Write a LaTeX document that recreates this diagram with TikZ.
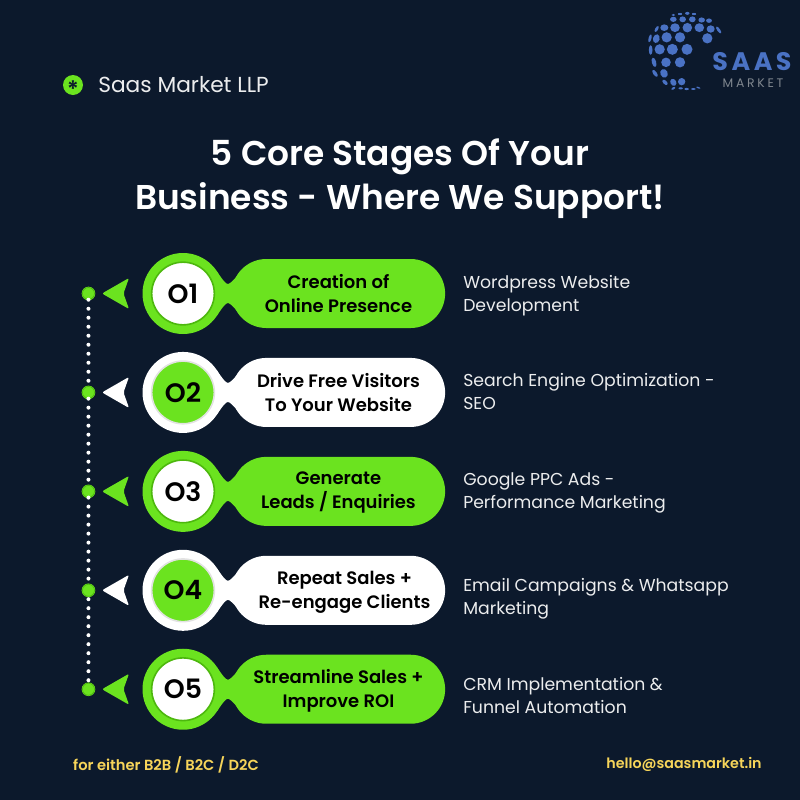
\documentclass[tikz,border=0pt]{standalone}
\usepackage{fontspec}
\setmainfont{Poppins}
\newfontfamily\strongfont{Poppins SemiBold}
\newfontfamily\logofont{Poppins}[LetterSpace=14]
\newfontfamily\subfont{Poppins}[LetterSpace=22]
\usetikzlibrary{positioning,shapes.misc}
\definecolor{navy}{HTML}{0C192C}
\definecolor{lime}{HTML}{6BE31F}
\definecolor{limedark}{HTML}{4DB80E}
\definecolor{paleline}{HTML}{E2E2E2}
\definecolor{sun}{HTML}{F7D55A}
\definecolor{globe}{HTML}{4A72C4}
\definecolor{greytext}{HTML}{7F868E}
\tikzset{
	tipmark/.pic={\path[pic actions,rounded corners=1.5pt] (-81,0) -- (-54,-15.5) -- (-59.5,0) -- (-54,15.5) -- cycle;},
	neck/.pic={\path[pic actions] (34,-22) .. controls (40,-13) and (43,-9.5) .. (45,-9.5) .. controls (47,-9.5) and (51,-14) .. (60,-24) -- (60,24) .. controls (51,14) and (47,9.5) .. (45,9.5) .. controls (43,9.5) and (40,13) .. (34,22) -- cycle;}
}
\begin{document}
\begin{tikzpicture}[x=0.75pt,y=-0.75pt,node distance=74.2pt]
	\tikzstyle{every node}=[inner sep=0pt]
	\tikzstyle{ringnode}=[circle,minimum size=60.75pt]
	\tikzstyle{corenode}=[circle,minimum size=47pt,line width=1.2pt,font=\fontsize{20}{20}\strongfont,text=black]
	\tikzstyle{pillnode}=[rounded rectangle,minimum width=160pt,minimum height=51.75pt]
	\tikzstyle{stagetext}=[align=center,font=\fontsize{13.5}{17.7}\strongfont,text=black]
	\tikzstyle{sidetext}=[align=left,anchor=west,font=\fontsize{12.95}{17.3}\selectfont,text=white!92!navy]
	\tikzstyle{dotnode}=[circle,minimum size=9pt,fill=lime,draw=lime,line width=0.35pt,double=limedark,double distance=0.5pt]
	\tikzstyle{footnote}=[font=\fontsize{11}{11}\strongfont,text=sun]
	\fill[navy] (0,0) rectangle (800,800);

	% header
	\node[circle,minimum size=15pt,fill=lime] (badge) at (73,85) {};
	\node[font=\fontsize{17}{17}\strongfont,text=navy,yshift=-3.2pt] (star) at (badge) {*};
	\node[anchor=west,font=\fontsize{16.3}{16.3}\selectfont,text=white!92!navy] (firm) at (98,85) {Saas Market LLP};
	\node[align=center,font=\fontsize{25.8}{33}\strongfont,text=white] (title) at (400,179) {5 Core Stages Of Your\\Business - Where We Support!};

	% logo
	\begin{scope}[shift={(640,5)},x=0.25pt,y=-0.25pt]
		\foreach \gx/\gy/\ga/\gb/\gt in {59/133/14/14/0,97/133/15/15/0,141/133/15/15/0,32/135/5/13/0,
			49/101/9/12/-15,80/97/14/14/0,120/97/14/14/0,202/100/14/14/0,30/100/4/11/-15,
			73/68/11/9/0,105/68/13/12/0,142/68/13/13/0,178/68/13/12/0,212/72/11/10/0,236/75/4/11/35,50/72/4/9/-30,
			100/43/9/7/0,128/43/9/8/0,157/43/9/8/0,185/45/9/7/0,207/47/8/6/0,
			100/30/5/3/0,120/27/6/3/0,142/25/6/4/0,162/27/6/3/0,
			42/172/6/13/15,78/172/13/13/0,120/172/14/14/0,45/205/5/11/35,72/205/10/12/25,
			75/232/5/9/45,100/232/8/10/30,125/230/10/10/0,
			100/250/6/3/30,122/250/6/3/0,140/252/6/3/0,160/252/6/2.5/0,175/248/6/2/-20}
			\fill[globe] (\gx,\gy) ellipse[x radius=1.1*\ga,y radius=1.1*\gb,rotate=\gt];
	\end{scope}
	\node[font=\fontsize{19}{19}\logofont\bfseries,text=globe] (logoname) at (752,62) {SAAS};
	\node[font=\fontsize{9.3}{9.3}\subfont,text=greytext] (logosub) at (753,83) {MARKET};

	% stage rings
	\node[ringnode,fill=lime]  (ring1) at (183,293.5) {};
	\node[ringnode,fill=white] (ring2) [below of=ring1] {};
	\node[ringnode,fill=lime]  (ring3) [below of=ring2] {};
	\node[ringnode,fill=white] (ring4) [below of=ring3] {};
	\node[ringnode,fill=lime]  (ring5) [below of=ring4] {};

	\node[corenode,fill=white,draw=limedark] (core1) at (ring1) {O1};
	\node[corenode,fill=lime,draw=paleline]  (core2) at (ring2) {O2};
	\node[corenode,fill=white,draw=limedark] (core3) at (ring3) {O3};
	\node[corenode,fill=lime,draw=paleline]  (core4) at (ring4) {O4};
	\node[corenode,fill=white,draw=limedark] (core5) at (ring5) {O5};

	% pills
	\node[pillnode,fill=lime]  (pill1) [right of=ring1,node distance=116.6pt] {};
	\node[pillnode,fill=white] (pill2) [right of=ring2,node distance=116.6pt] {};
	\node[pillnode,fill=lime]  (pill3) [right of=ring3,node distance=116.6pt] {};
	\node[pillnode,fill=white] (pill4) [right of=ring4,node distance=116.6pt] {};
	\node[pillnode,fill=lime]  (pill5) [right of=ring5,node distance=116.6pt] {};

	\pic[fill=lime]  at (ring1) {neck};
	\pic[fill=white] at (ring2) {neck};
	\pic[fill=lime]  at (ring3) {neck};
	\pic[fill=white] at (ring4) {neck};
	\pic[fill=lime]  at (ring5) {neck};

	\pic[fill=lime]  at (ring1) {tipmark};
	\pic[fill=white] at (ring2) {tipmark};
	\pic[fill=lime]  at (ring3) {tipmark};
	\pic[fill=white] at (ring4) {tipmark};
	\pic[fill=lime]  at (ring5) {tipmark};

	\node[stagetext] (stage1) at (pill1) {Creation of\\Online Presence};
	\node[stagetext] (stage2) at (pill2) {Drive Free Visitors\\To Your Website};
	\node[stagetext,yshift=-0.7pt] (stage3) at (pill3) {Generate\\Leads / Enquiries};
	\node[stagetext,xshift=4.5pt,yshift=-1.5pt] (stage4) at (pill4) {Repeat Sales +\\Re-engage Clients};
	\node[stagetext,yshift=-1pt] (stage5) at (pill5) {Streamline Sales +\\Improve ROI};

	% side texts
	\node[sidetext,yshift=-1.6pt] (side1) [right of=pill1,node distance=93.4pt,anchor=west] {Wordpress Website\\Development};
	\node[sidetext,yshift=0.7pt] (side2) [right of=pill2,node distance=93.4pt,anchor=west] {Search Engine Optimization -\\SEO};
	\node[sidetext,yshift=-1.2pt] (side3) [right of=pill3,node distance=93.4pt,anchor=west] {Google PPC Ads -\\Performance Marketing};
	\node[sidetext,yshift=-6pt] (side4) [right of=pill4,node distance=93.4pt,anchor=west] {Email Campaigns \& Whatsapp\\Marketing};
	\node[sidetext,yshift=-4.5pt] (side5) [right of=pill5,node distance=93.4pt,anchor=west] {CRM Implementation \&\\Funnel Automation};

	% timeline
	\node[dotnode] (dot1) [left of=ring1,node distance=70.9pt] {};
	\node[dotnode] (dot2) [left of=ring2,node distance=70.9pt] {};
	\node[dotnode] (dot3) [left of=ring3,node distance=70.9pt] {};
	\node[dotnode] (dot4) [left of=ring4,node distance=70.9pt] {};
	\node[dotnode] (dot5) [left of=ring5,node distance=70.9pt] {};
	\draw[white,line width=3pt,line cap=round,dash pattern=on 0pt off 6.75pt,shorten <=2pt,shorten >=1pt] (dot1) -- (dot2) -- (dot3) -- (dot4) -- (dot5);

	% footer
	\node[footnote] (audience) at (166,765) {for either B2B / B2C / D2C};
	\node[footnote,font=\fontsize{10.7}{10.7}\strongfont] (mail) at (684,764) {hello@saasmarket.in};
\end{tikzpicture}
\end{document}
